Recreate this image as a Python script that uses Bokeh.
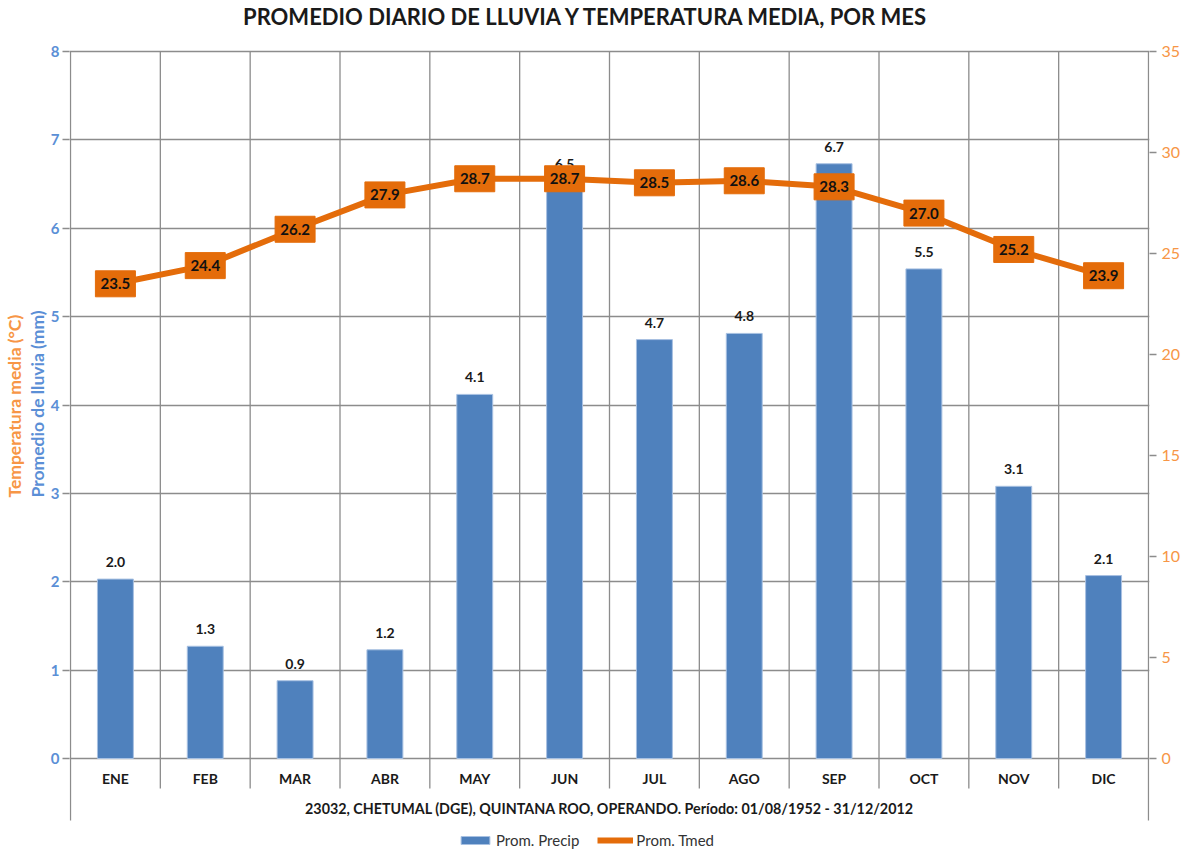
import math
from bokeh.plotting import figure
from bokeh.models import Range1d, LinearAxis, FixedTicker, Label, Legend, LegendItem, ColumnDataSource, Title
from bokeh.core.properties import value
from bokeh.embed import file_html
from bokeh.resources import INLINE

# ---- data ----
meses = ["ENE", "FEB", "MAR", "ABR", "MAY", "JUN", "JUL", "AGO", "SEP", "OCT", "NOV", "DIC"]
precip = [2.03, 1.27, 0.88, 1.23, 4.12, 6.54, 4.74, 4.81, 6.73, 5.54, 3.08, 2.07]
tmed = [23.5, 24.4, 26.2, 27.9, 28.7, 28.7, 28.5, 28.6, 28.3, 27.0, 25.2, 23.9]
precip_ticks = [0, 1, 2, 3, 4, 5, 6, 7, 8]
tmed_ticks = [0, 5, 10, 15, 20, 25, 30, 35]
titulo = "PROMEDIO DIARIO DE LLUVIA Y TEMPERATURA MEDIA, POR MES"
subtitulo = "23032, CHETUMAL (DGE), QUINTANA ROO, OPERANDO. Período: 01/08/1952 - 31/12/2012"

# ---- style ----
FONT = "Lato"
BLUE = "#4F81BD"
BLUE_TXT = "#5B8FD6"
ORANGE = "#E46C0A"
ORANGE_TXT = "#F79646"
GRID = "#8C8C8C"
TXT = "#1A1A1A"

# geometry (page px): zero line at 758, value 8 at 51, frame from 0 to 849
PPU = 707 / 8.0          # px per mm unit on left axis
XPPU = 1078 / 12.0       # px per category
y_end = 758 / PPU
y_start = -91 / PPU
t_scale = 35 / 8.0
x_start = -1 / XPPU
x_end = 12 + 1 / XPPU

xs = [i + 0.5 for i in range(len(meses))]

p = figure(frame_width=1080, frame_height=849,
           x_range=Range1d(x_start, x_end), y_range=Range1d(y_start, y_end),
           min_border_left=69, min_border_right=26, min_border_top=0, min_border_bottom=0,
           output_backend="svg", toolbar_location=None, x_axis_location=None)
p.outline_line_color = None
p.background_fill_color = "white"

p.extra_y_ranges = {"temp": Range1d(y_start * t_scale, y_end * t_scale)}

# left axis
ya = p.yaxis[0]
ya.ticker = FixedTicker(ticks=precip_ticks)
ya.axis_line_color = None
ya.major_tick_in = 0
ya.major_tick_out = 7
ya.major_tick_line_color = GRID
ya.major_tick_line_width = 1.3
ya.minor_tick_line_color = None
ya.major_label_text_color = BLUE_TXT
ya.major_label_text_font = FONT
ya.major_label_text_font_size = "15px"
ya.major_label_text_font_style = "bold"
ya.major_label_standoff = 3

# rotated axis titles (left side, stacked outward), anchored from the frame bottom
from_bottom = 849 - 497
t_blue = Title(text="Promedio de lluvia (mm)", align="left", offset=from_bottom, standoff=0,
               text_font=FONT, text_font_size="17.5px", text_font_style="bold", text_color=BLUE_TXT)
t_orange = Title(text="Temperatura media (°C)", align="left", offset=from_bottom, standoff=0,
                 text_font=FONT, text_font_size="17.5px", text_font_style="bold", text_color=ORANGE_TXT)
p.add_layout(t_blue, "left")
p.add_layout(t_orange, "left")

ra = LinearAxis(y_range_name="temp", ticker=FixedTicker(ticks=tmed_ticks))
ra.axis_line_color = None
ra.major_tick_in = 0
ra.major_tick_out = 7
ra.major_tick_line_color = GRID
ra.major_tick_line_width = 1.3
ra.minor_tick_line_color = None
ra.major_label_text_color = ORANGE_TXT
ra.major_label_text_font = FONT
ra.major_label_text_font_size = "16px"
ra.major_label_standoff = 5
p.add_layout(ra, "right")

p.xgrid.visible = False
p.ygrid.ticker = FixedTicker(ticks=precip_ticks)
p.ygrid.grid_line_color = GRID
p.ygrid.grid_line_width = 1.3

# vertical separators
inner = list(range(1, len(meses)))
p.segment(x0=inner, y0=[-30 / PPU] * len(inner), x1=inner, y1=[8] * len(inner),
          line_color=GRID, line_width=1.3)
edges = [0, len(meses)]
p.segment(x0=edges, y0=[-62 / PPU] * 2, x1=edges, y1=[8] * 2,
          line_color=GRID, line_width=1.3)

# bars
src = ColumnDataSource(dict(x=xs, top=precip,
                            ly=[v + 17 / PPU for v in precip],
                            lab=[f"{v:.1f}" for v in precip]))
bars = p.vbar(x="x", top="top", width=0.4, source=src, fill_color=BLUE,
              line_color="#A8C1E2", line_width=1)
p.text(x="x", y="ly", text="lab", source=src, text_align="center", text_baseline="middle",
       text_font=value(FONT), text_font_size="14px", text_font_style="bold", text_color=TXT)

# temperature
tsrc = ColumnDataSource(dict(x=xs, y=tmed, lab=[f"{v:.1f}" for v in tmed]))
tline = p.line(x="x", y="y", source=tsrc, y_range_name="temp", line_width=6, line_color=ORANGE)
p.rect(x="x", y="y", width=40, height=26, width_units="screen", height_units="screen",
       source=tsrc, y_range_name="temp", fill_color=ORANGE, line_color=ORANGE)
p.text(x="x", y="y", text="lab", source=tsrc, y_range_name="temp", text_align="center",
       text_baseline="middle", text_font=value(FONT), text_font_size="15px",
       text_font_style="bold", text_color="#111111")

# month labels
p.text(x=xs, y=[-20 / PPU] * len(xs), text=meses, text_align="center", text_baseline="middle",
       text_font=value(FONT), text_font_size="14px", text_font_style="bold", text_color=TXT)

p.add_layout(Label(x=6, y=-50 / PPU, text=subtitulo, text_align="center", text_baseline="middle",
                   text_font=FONT, text_font_size="14.3px", text_font_style="bold", text_color=TXT))

# title
p.add_layout(Label(x=(586 - 70) / XPPU, y=(758 - 16) / PPU, text=titulo, text_align="center",
                   text_baseline="middle", text_font=FONT, text_font_size="22px",
                   text_font_style="bold", text_color=TXT))

legend = Legend(items=[LegendItem(label="Prom. Precip", renderers=[bars]),
                       LegendItem(label="Prom. Tmed", renderers=[tline])],
                orientation="horizontal", location=(388, 0), glyph_width=36, glyph_height=10,
                label_text_font=FONT, label_text_font_size="15px", label_text_color="#333333",
                border_line_color=None, background_fill_alpha=0, padding=0, margin=0,
                spacing=18, label_standoff=3)
p.add_layout(legend)

open("out.html", "w").write(file_html(p, INLINE))
